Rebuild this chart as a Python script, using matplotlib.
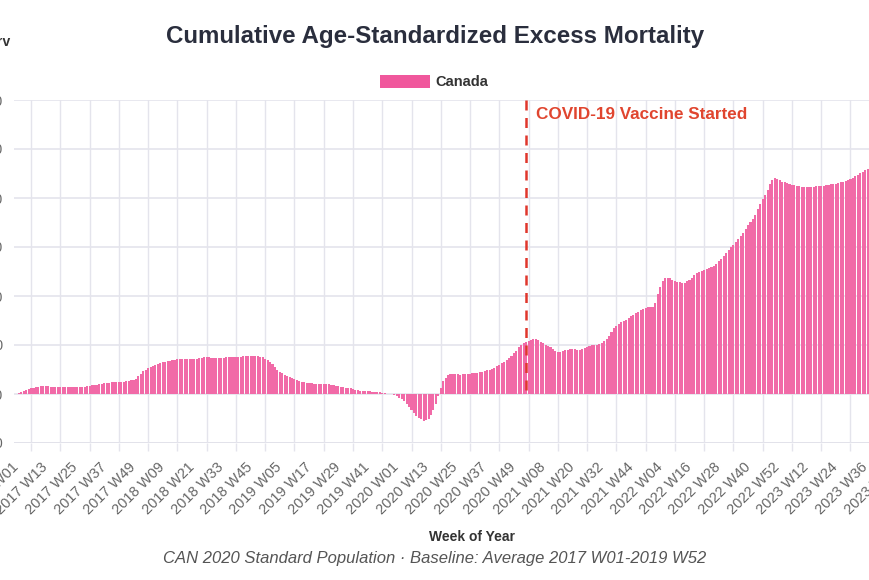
import matplotlib.pyplot as plt
import numpy as np

plt.rcParams['font.family'] = ['Liberation Sans', 'DejaVu Sans']

years = [2017, 2018, 2019, 2020, 2021, 2022, 2023]
weeks_in_year = [52, 52, 52, 53, 52, 52, 52]

excess_2017 = [0.00, 0.02, 0.04, 0.07, 0.09, 0.10, 0.12, 0.13, 0.14, 0.15, 0.16, 0.16, 0.16,
               0.16, 0.15, 0.15, 0.15, 0.15, 0.14, 0.14, 0.14, 0.14, 0.14, 0.14, 0.14, 0.14,
               0.15, 0.15, 0.15, 0.16, 0.17, 0.18, 0.18, 0.19, 0.20, 0.21, 0.22, 0.23, 0.23,
               0.24, 0.24, 0.24, 0.24, 0.25, 0.25, 0.26, 0.27, 0.28, 0.29, 0.31, 0.36, 0.41]
excess_2018 = [0.46, 0.50, 0.53, 0.56, 0.58, 0.60, 0.62, 0.64, 0.65, 0.66, 0.67, 0.68, 0.69,
               0.70, 0.71, 0.71, 0.71, 0.71, 0.71, 0.71, 0.71, 0.71, 0.72, 0.73, 0.74, 0.75,
               0.75, 0.75, 0.74, 0.74, 0.74, 0.74, 0.74, 0.74, 0.75, 0.75, 0.75, 0.75, 0.76,
               0.76, 0.76, 0.77, 0.77, 0.78, 0.78, 0.78, 0.77, 0.77, 0.76, 0.75, 0.72, 0.69]
excess_2019 = [0.66, 0.61, 0.55, 0.49, 0.45, 0.42, 0.39, 0.37, 0.35, 0.33, 0.31, 0.29, 0.27,
               0.25, 0.24, 0.23, 0.22, 0.22, 0.21, 0.21, 0.21, 0.21, 0.20, 0.20, 0.20, 0.19,
               0.18, 0.17, 0.16, 0.15, 0.14, 0.13, 0.13, 0.12, 0.10, 0.09, 0.08, 0.07, 0.07,
               0.06, 0.06, 0.06, 0.05, 0.05, 0.04, 0.04, 0.03, 0.02, 0.01, 0.00, -0.01, -0.03]
excess_2020 = [-0.05, -0.08, -0.11, -0.15, -0.20, -0.26, -0.33, -0.39, -0.44, -0.48, -0.52,
               -0.55, -0.54, -0.50, -0.42, -0.33, -0.20, -0.05, 0.12, 0.26, 0.33, 0.38, 0.40,
               0.40, 0.40, 0.40, 0.39, 0.40, 0.40, 0.41, 0.41, 0.42, 0.42, 0.43, 0.44, 0.45,
               0.47, 0.49, 0.50, 0.52, 0.54, 0.57, 0.60, 0.63, 0.66, 0.69, 0.73, 0.78, 0.83,
               0.88, 0.95, 1.01, 1.05]
excess_2021 = [1.07, 1.09, 1.11, 1.12, 1.12, 1.10, 1.07, 1.04, 1.01, 0.98, 0.96, 0.92, 0.88,
               0.86, 0.86, 0.88, 0.89, 0.90, 0.91, 0.92, 0.91, 0.90, 0.90, 0.91, 0.93, 0.96,
               0.98, 0.99, 1.00, 1.00, 1.02, 1.05, 1.09, 1.13, 1.19, 1.27, 1.34, 1.39, 1.43,
               1.46, 1.49, 1.52, 1.55, 1.59, 1.62, 1.65, 1.68, 1.71, 1.74, 1.76, 1.78, 1.78]
excess_2022 = [1.77, 1.86, 2.05, 2.19, 2.30, 2.36, 2.37, 2.36, 2.33, 2.30, 2.29, 2.28, 2.27,
               2.27, 2.30, 2.33, 2.37, 2.42, 2.46, 2.49, 2.52, 2.54, 2.56, 2.58, 2.60, 2.61,
               2.65, 2.71, 2.76, 2.82, 2.88, 2.94, 2.99, 3.05, 3.11, 3.17, 3.23, 3.29, 3.36,
               3.44, 3.51, 3.58, 3.66, 3.78, 3.88, 3.97, 4.07, 4.16, 4.29, 4.37, 4.40, 4.39]
excess_2023 = [4.36, 4.33, 4.32, 4.30, 4.28, 4.27, 4.26, 4.25, 4.24, 4.23, 4.23, 4.23, 4.23,
               4.23, 4.23, 4.24, 4.24, 4.24, 4.25, 4.26, 4.27, 4.28, 4.28, 4.29, 4.31, 4.32,
               4.33, 4.35, 4.37, 4.39, 4.41, 4.44, 4.47, 4.51, 4.54, 4.57, 4.60]

y_ticks = [-1, 0, 1, 2, 3, 4, 5, 6]
vaccine_week = '2021 W01'

week_labels = [f'{y} W{w:02d}' for y, n in zip(years, weeks_in_year)
               for w in range(1, n + 1)]
excess = (excess_2017 + excess_2018 + excess_2019 + excess_2020
          + excess_2021 + excess_2022 + excess_2023)
idx = np.arange(len(excess))

pink = '#f16aa7'
grid_c = '#e4e4ec'
W, H = 870, 580

fig = plt.figure(figsize=(8.7, 5.8), dpi=100)
# plot area runs past the right edge (reference is cropped)
ax = fig.add_axes([14 / W, (H - 443) / H, 895 / W, 343 / H])
bars = ax.bar(idx, excess, width=0.85, color=pink, linewidth=0, label='Canada', zorder=2)

ax.set_xlim(-1, 365)
ax.set_ylim(-1, 6)
tick_pos = np.arange(0, 361, 12)
ax.set_xticks(tick_pos)
ax.set_xticklabels([week_labels[i] for i in tick_pos], rotation=45, ha='right',
                   va='center', rotation_mode='anchor', fontsize=10.5, color='#666666')
ax.set_xticks(tick_pos + 6, minor=True)
ax.tick_params(axis='x', which='major', length=0, pad=16)
ax.tick_params(axis='x', which='minor', length=6, color=grid_c, width=1)
ax.set_yticks(y_ticks)
ax.set_yticklabels([f'{v:.1f}' for v in y_ticks], fontsize=10, color='#666666')
ax.tick_params(axis='y', length=0, pad=8)
ax.grid(True, axis='y', which='major', color=grid_c, lw=1.2, zorder=0)
ax.grid(True, axis='x', which='minor', color=grid_c, lw=1, zorder=0)
for s in ax.spines.values():
    s.set_visible(False)
ax.axhline(-1, color='#d8d8e2', lw=1.3, zorder=1)

vx = week_labels.index(vaccine_week)
ax.plot([vx, vx], [6, 0], color='#e0362c', lw=1.8, ls=(0, (4, 3)), zorder=3)
ax.text(vx + 4, 5.7, 'COVID-19 Vaccine Started', color='#e0452f', fontsize=12.3,
        fontweight='bold', va='center', ha='left')

ax.set_xlabel('Week of Year', fontsize=10, fontweight='bold', color='#333333')
ax.xaxis.set_label_coords((472 - 14) / 895, -(530 - 443) / 343)

ax.legend(handles=[bars], loc='center', bbox_to_anchor=(434 / W, (H - 82) / H),
          bbox_transform=fig.transFigure, frameon=False,
          handlelength=3.4, handleheight=1.05, handletextpad=0.35,
          labelcolor='#333333', prop={'weight': 'bold', 'size': 10.5})
ax.get_legend().legend_handles[0].set_color('#f0579c')

fig.text(435 / W, (H - 36) / H, 'Cumulative Age-Standardized Excess Mortality',
         ha='center', va='center', fontsize=17.4, fontweight='bold', color='#2a2e3d')
fig.text(10 / W, (H - 42) / H, 'rv', ha='right', va='center', fontsize=10,
         fontweight='bold', color='#333333')
fig.text(435 / W, (H - 558) / H,
         'CAN 2020 Standard Population \u00b7 Baseline: Average 2017 W01-2019 W52',
         ha='center', va='center', fontsize=12, style='italic', color='#555555')

fig.savefig('out.png', dpi=100)
